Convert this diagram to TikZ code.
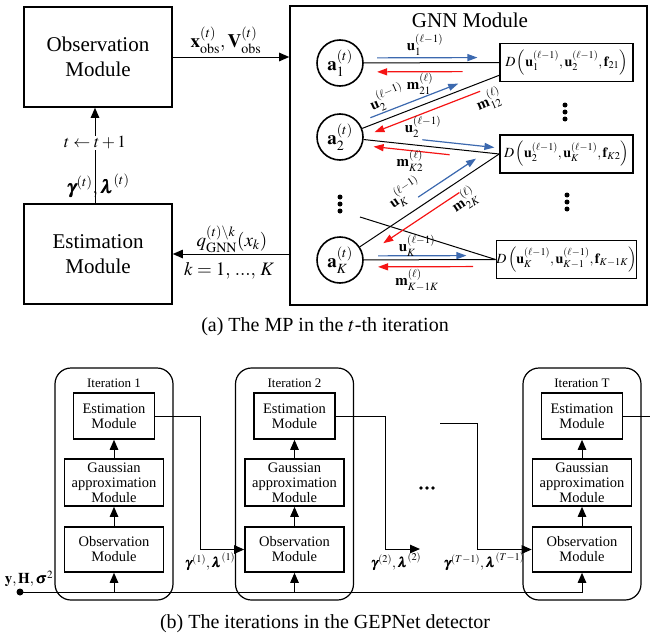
\documentclass[tikz,border=0pt]{standalone}
\usepackage{amsmath}
\usepackage{mathptmx}
\usepackage{bm}
\usepackage{fontspec}
\setmainfont{Liberation Serif}
\usetikzlibrary{arrows.meta,calc}

\definecolor{msgblue}{RGB}{60,105,175}
\definecolor{msgred}{RGB}{245,20,20}

% pair of message arrows along a link from #1 to #2:
% blue from #3 to #4 (fractions), red from #5 to #6, offsets #7 (blue, left) and #8 (red, right)
\newcommand\msgpair[8]{%
  \path ($(#1)!#3!(#2)$) coordinate (bA) ($(#1)!#4!(#2)$) coordinate (bB)
        ($(#1)!#5!(#2)$) coordinate (rA) ($(#1)!#6!(#2)$) coordinate (rB);
  \draw[bluemsg] ($(bA)!#7!90:(#2)$) -- ($(bB)!#7!90:(#2)$);
  \draw[redmsg] ($(rA)!#8!-90:(#2)$) -- ($(rB)!#8!-90:(#2)$);
}

% one detector iteration: prefix, x centre, title
\newcommand\iterblock[3]{%
  \node[iterbox] (#1box) at (#2,484) {};
  \node[itertitle] (#1title) at (#2,383) {#3};
  \node[modbox, minimum width=81pt, minimum height=46pt] (#1est) at (#2,416) {Estimation\\Module};
  \node[modbox, minimum width=99pt, minimum height=47pt] (#1gau) at (#2,482.5) {Gaussian\\approximation\\Module};
  \node[modbox, minimum width=99pt, minimum height=45pt] (#1obs) at (#2,549.5) {Observation\\Module};
  \draw[conn] (#1obs) -- (#1gau);
  \draw[conn] (#1gau) -- (#1est);
}

\tikzset{
  bigbox/.style={draw, line width=1.6pt, minimum width=148pt, minimum height=100pt,
    align=center, font=\fontsize{21}{25}\selectfont},
  agent/.style={circle, draw, line width=1.6pt, minimum size=46pt, inner sep=0pt,
    font=\fontsize{19}{22}\selectfont},
  dbox/.style={draw, line width=1.6pt, minimum width=133pt, minimum height=38pt,
    inner sep=0pt, font=\fontsize{14}{16}\selectfont},
  lnk/.style={line width=1pt},
  bluemsg/.style={draw=msgblue, line width=1.2pt, -{Triangle[length=10pt,width=7pt]}},
  redmsg/.style={draw=msgred, line width=1.2pt, -{Triangle[length=10pt,width=7pt]}},
  conn/.style={line width=1pt, -{Triangle[length=10pt,width=8.5pt]}},
  lbl/.style={font=\fontsize{15}{18}\selectfont, inner sep=1pt},
  toplbl/.style={font=\fontsize{19}{22}\selectfont, inner sep=1pt},
  iterbox/.style={draw, rounded corners=16pt, line width=1.2pt, minimum width=118pt, minimum height=232pt},
  itertitle/.style={font=\fontsize{13}{15}\selectfont, inner sep=0pt},
  modbox/.style={draw, line width=1.6pt, align=center, inner sep=0pt, font=\fontsize{14.5}{15}\selectfont},
  dot/.style={circle, fill, inner sep=0pt, minimum size=5pt},
  caption/.style={font=\fontsize{20}{24}\selectfont, anchor=base},
}

\begin{document}
\begin{tikzpicture}[x=1pt, y=-1pt]
\useasboundingbox (0,0) rectangle (650,637);

% ---------- (a) message passing ----------
\node[bigbox] (obs) at (98,57) {Observation\\Module};
\node[bigbox] (est) at (98,254) {Estimation\\Module};
\node[draw, line width=1.6pt, minimum width=357pt, minimum height=299pt] (gnn) at (468.5,155.5) {};
\node[font=\fontsize{21}{25}\selectfont] (gnntitle) at (470,20) {GNN Module};

\draw[conn] (obs.east) -- (obs.east -| gnn.west);
\node[toplbl] (xv) at (226,40) {$\mathbf{x}_{\mathrm{obs}}^{(t)},\mathbf{V}_{\mathrm{obs}}^{(t)}$};
\draw[conn] (gnn.west |- est.east) -- (est.east);
\node[toplbl] (qg) at (232,239) {$q_{\mathrm{GNN}}^{(t)\backslash k}(x_k)$};
\node[toplbl] (kr) at (229,271) {$k=1,\,...,\,K$};

\draw[conn] ($(est.north)+(-3,0)$) -- ($(obs.south)+(-3,0)$);
\node[toplbl, fill=white, font=\fontsize{17}{20}\selectfont] (tinc) at (95,143) {$t\leftarrow t+1$};
\node[toplbl] (gl) at (98,186) {$\bm{\gamma}^{(t)},\bm{\lambda}^{(t)}$};

% agents and factor boxes
\node[agent] (a1) at (340,63) {$\mathbf{a}_1^{(t)}$};
\node[agent] (a2) at (340,137) {$\mathbf{a}_2^{(t)}$};
\node[agent] (aK) at (340,260) {$\mathbf{a}_K^{(t)}$};

\node[dbox] (d1) at (566.5,62.5) {$D\left(\mathbf{u}_1^{(\ell-1)},\mathbf{u}_2^{(\ell-1)},\mathbf{f}_{21}\right)$};
\node[dbox] (d2) at (566.5,154) {$D\left(\mathbf{u}_2^{(\ell-1)},\mathbf{u}_K^{(\ell-1)},\mathbf{f}_{K2}\right)$};
\node[dbox] (dK) at (566.5,259.5) {$D\left(\mathbf{u}_K^{(\ell-1)},\mathbf{u}_{K-1}^{(\ell-1)},\mathbf{f}_{K-1K}\right)$};

\coordinate (d1low) at ($(d1.south west)+(0,-7)$);
\coordinate (stray) at (360,217);

\draw[lnk] (a1) -- (d1.west);
\draw[lnk] (a2) -- (d1low);
\draw[lnk] (a2) -- (d2.west);
\draw[lnk] (aK) -- (d2.west);
\draw[lnk] (aK) -- (dK.west);
\draw[lnk] (stray) -- (dK.west);

\path ($(a1.center)!23.5pt!(d1.west)$) coordinate (s1)
      ($(a2.center)!23.5pt!(d1low)$) coordinate (s2)
      ($(a2.center)!23.5pt!(d2.west)$) coordinate (s3)
      ($(aK.center)!23.5pt!(d2.west)$) coordinate (s4)
      ($(aK.center)!23.5pt!(dK.west)$) coordinate (s5);

\msgpair{s1}{d1.west}{0.10}{0.84}{0.73}{0.10}{5pt}{9pt}
\msgpair{s2}{d1low}{0.08}{0.72}{0.84}{0.07}{7pt}{8pt}
\msgpair{s3}{d2.west}{0.43}{0.96}{0.64}{0.08}{6pt}{6pt}
\msgpair{s4}{d2.west}{0.455}{0.87}{0.675}{0.13}{9pt}{10pt}
\msgpair{s5}{dK.west}{0.11}{0.78}{0.83}{0.11}{4pt}{7pt}

\node[lbl] (u1) at (425,45) {$\mathbf{u}_1^{(\ell-1)}$};
\node[lbl] (m21) at (420,84) {$\mathbf{m}_{21}^{(\ell)}$};
\node[lbl, rotate=23] (u2a) at (387,98) {$\mathbf{u}_2^{(\ell-1)}$};
\node[lbl, rotate=23] (m12) at (489,100) {$\mathbf{m}_{12}^{(\ell)}$};
\node[lbl] (u2b) at (423,127) {$\mathbf{u}_2^{(\ell-1)}$};
\node[lbl] (mK2) at (410,161) {$\mathbf{m}_{K2}^{(\ell)}$};
\node[lbl, rotate=34] (uKa) at (405,193) {$\mathbf{u}_K^{(\ell-1)}$};
\node[lbl, rotate=34] (m2K) at (464,200) {$\mathbf{m}_{2K}^{(\ell)}$};
\node[lbl] (uKb) at (417,246) {$\mathbf{u}_K^{(\ell-1)}$};
\node[lbl] (mKK) at (417,280) {$\mathbf{m}_{K-1K}^{(\ell)}$};

% vertical ellipses
\foreach \y [count=\i] in {105,112,119} {\node[dot] (dA\i) at (565,\y) {};}
\foreach \y [count=\i] in {195,202,209} {\node[dot] (dB\i) at (567,\y) {};}
\foreach \y [count=\i] in {197,204,211} {\node[dot] (dC\i) at (340,\y) {};}

\node[caption] (capa) at (325,331) {(a) The MP in the $t$-th iteration};

% ---------- (b) unfolded iterations ----------
\iterblock{i1}{114}{Iteration 1}
\iterblock{i2}{294.5}{Iteration 2}
\iterblock{iT}{582}{Iteration T}

\node[dot, minimum size=7pt] (inp) at (20,592) {};
\node[font=\fontsize{15}{18}\selectfont, inner sep=0pt] (inlbl) at (29,579) {$\mathbf{y},\mathbf{H},\bm{\sigma}^2$};
\draw[conn] (inp.center) -| (iTobs.south);
\draw[conn] (i1obs.south |- inp.center) -- (i1obs.south);
\draw[conn] (i2obs.south |- inp.center) -- (i2obs.south);

\draw[conn] (i1est.east) -- ++(45,0) |- (i2obs.west);
\node[font=\fontsize{14}{16}\selectfont] (g1) at (210,562) {$\bm{\gamma}^{(1)},\bm{\lambda}^{(1)}$};

\coordinate (end2) at (420,549);
\draw[conn] (i2est.east) -- ++(50,0) |- (end2);
\node[font=\fontsize{14}{16}\selectfont] (g2) at (396,562) {$\bm{\gamma}^{(2)},\bm{\lambda}^{(2)}$};

\foreach \x [count=\i] in {421,427,433} {\node[dot, minimum size=3.6pt] (hd\i) at (\x,488) {};}

\coordinate (startT) at (440,423);
\draw[conn] (startT) -- ++(37,0) |- (iTobs.west);
\node[font=\fontsize{14}{16}\selectfont] (gT) at (484,562) {$\bm{\gamma}^{(T-1)},\bm{\lambda}^{(T-1)}$};

\coordinate (outT) at (650,416);
\draw[lnk] (iTest.east) -- (iTest.east -| outT);

\node[caption] (capb) at (325,628) {(b) The iterations in the GEPNet detector};
\end{tikzpicture}
\end{document}
